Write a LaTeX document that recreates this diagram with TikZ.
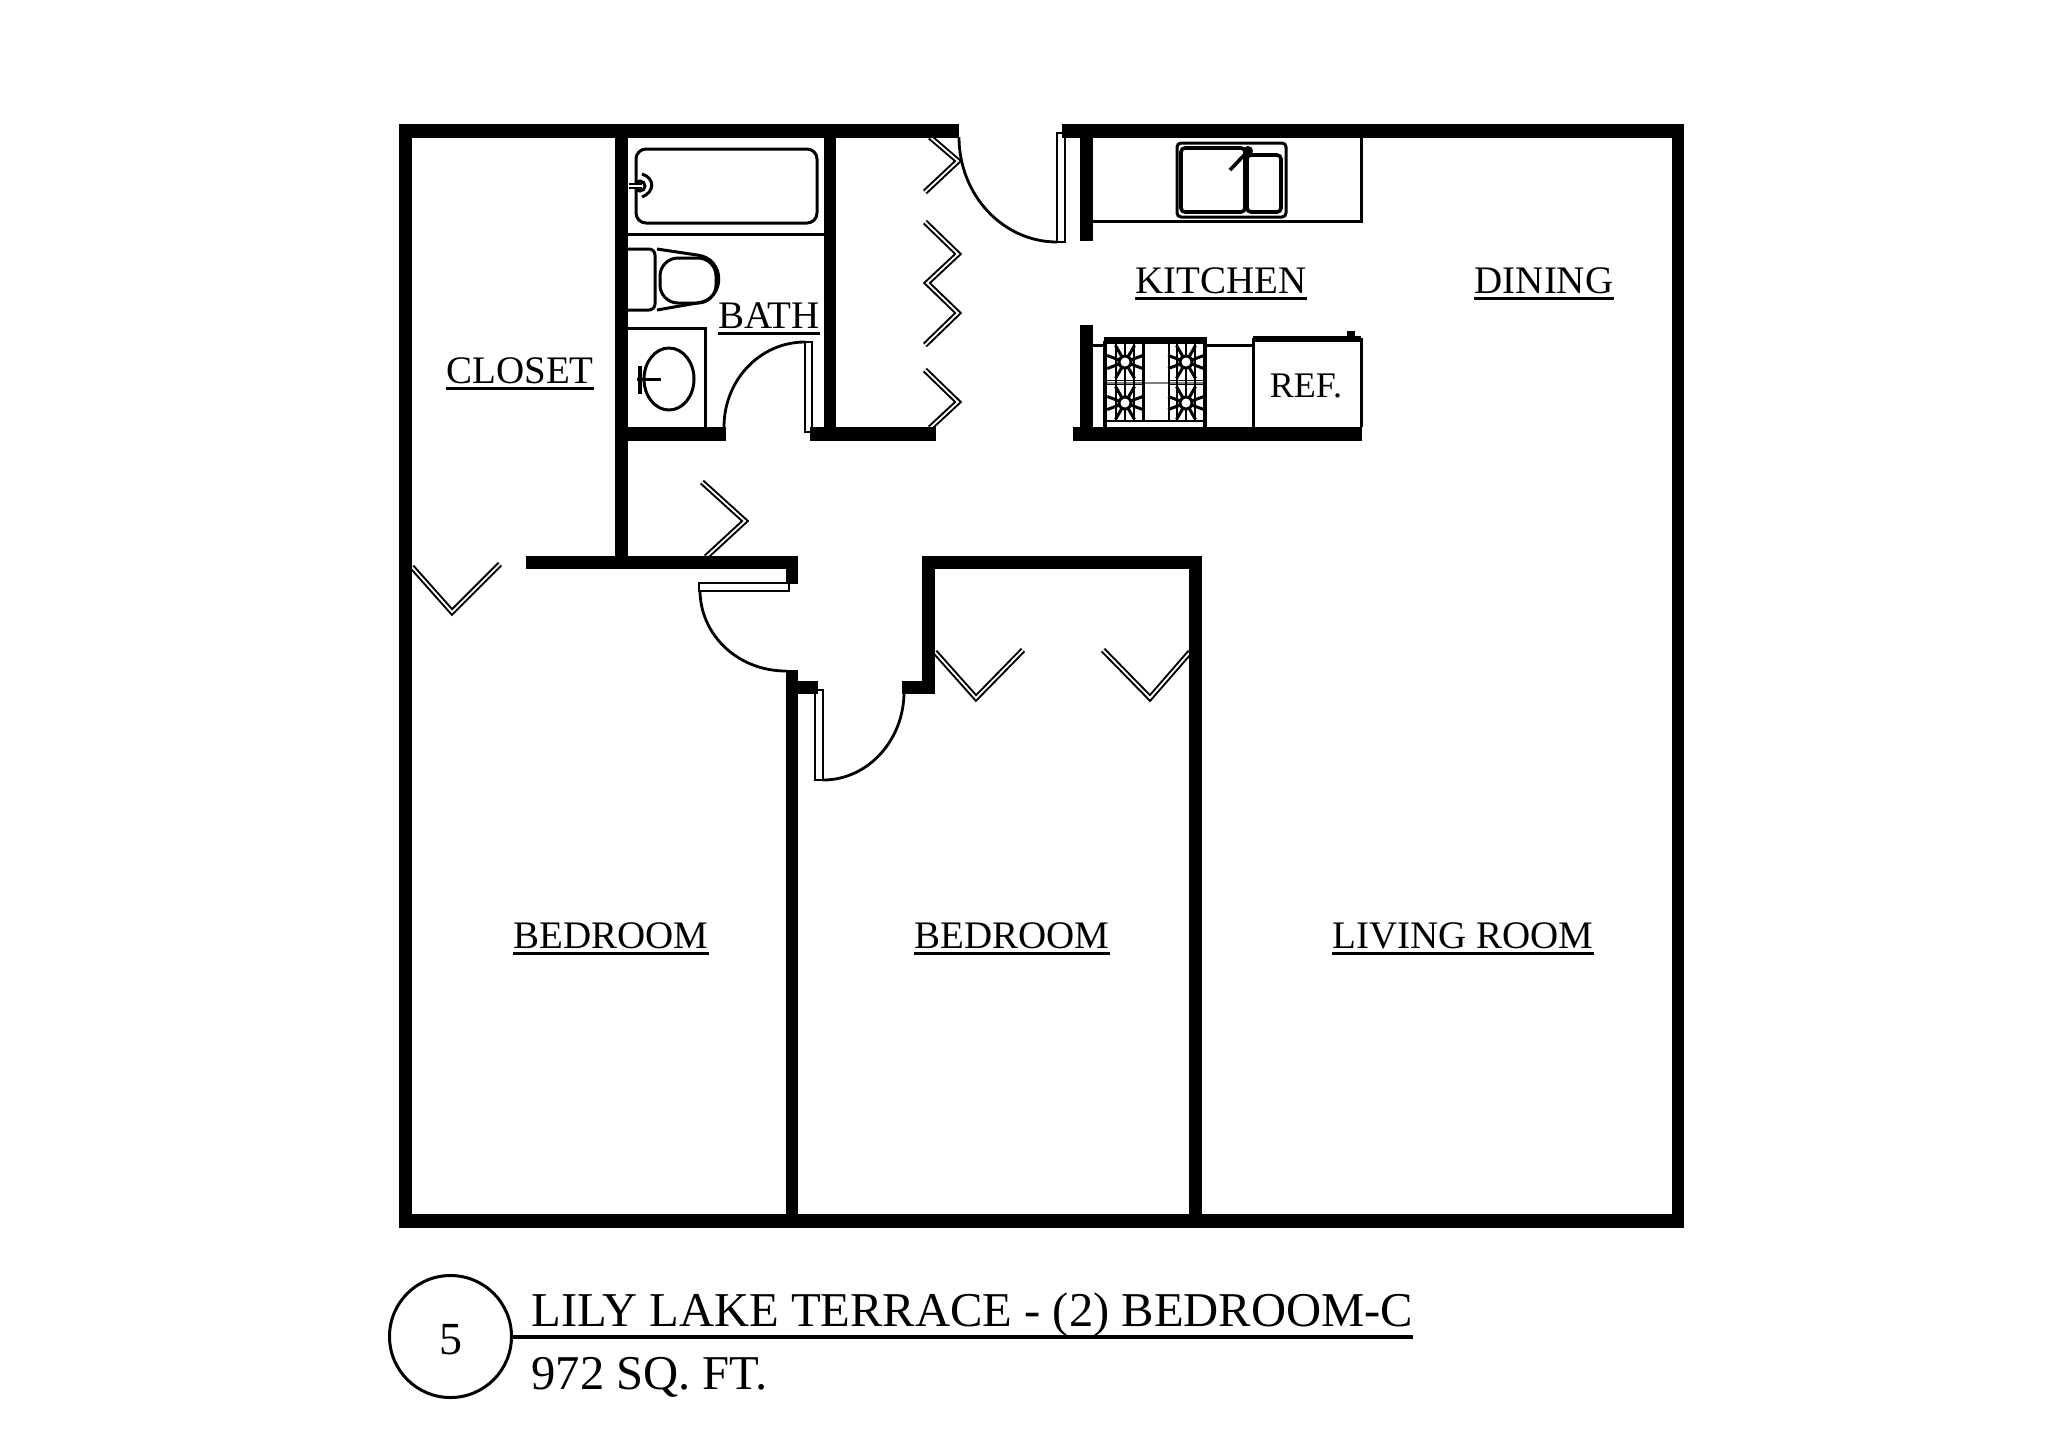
\documentclass[tikz,border=0pt]{standalone}
\usepackage{fontspec}
\setmainfont{Liberation Serif}
\usepackage{tikz}
\usetikzlibrary{positioning}

\tikzset{
    thinline/.style={line width=1.5pt},
    hairline/.style={line width=0.7pt},
    foldline/.style={double, line width=1pt, double distance=0.9pt, miter limit=10},
    leafline/.style={line width=1pt, fill=white},
    swingline/.style={line width=1.4pt},
    roomtext/.style={inner sep=0pt, anchor=base, font=\fontsize{19.5}{20}\selectfont},
    titletext/.style={inner sep=0pt, anchor=base west, font=\fontsize{24.3}{26}\selectfont},
}

\begin{document}
\begin{tikzpicture}[x=0.5pt,y=-0.5pt]
    \useasboundingbox (0,0) rectangle (2048,1448);

    % 折叠门
    \foreach \pts in {
        {(930,137) -- (958,161) -- (925,192)},
        {(925,222) -- (958,254) -- (927,283) -- (958,313) -- (925,345)},
        {(925,370) -- (958,402) -- (930,428)},
        {(702,482) -- (745,521) -- (706,557)},
        {(412,567) -- (452,612) -- (500,564)},
        {(935,652) -- (976,698) -- (1023,650)},
        {(1103,650) -- (1150,698) -- (1190,652)}
    } {
        \draw[foldline] \pts;
    }

    % 门扇
    \draw[leafline] (1057,133) rectangle (1065,242);
    \draw[leafline] (805,342) rectangle (812,432);
    \draw[leafline] (699,583) rectangle (789,591);
    \draw[leafline] (815,690) rectangle (823,780);
    \draw[swingline] (959,137) .. controls (959,195) and (1003,242) .. (1057,242);
    \draw[swingline] (724,427) .. controls (724,380) and (760,342) .. (805,342);
    \draw[swingline] (700,590) .. controls (700,635) and (738,671) .. (786,671);
    \draw[swingline] (823,780) .. controls (868,780) and (904,740) .. (904,692);

    % 墙
    \foreach \xa/\ya/\xb/\yb in {
        399/124/959/138, 1062/124/1684/138, 399/1214/1684/1228,
        399/124/412/1228, 1672/124/1684/1228,
        615/124/628/556, 824/124/836/441,
        615/427/726/441, 810/427/936/441, 1073/427/1362/441,
        1080/137/1093/241, 1080/325/1093/427,
        526/556/798/569, 786/556/798/584,
        786/670/798/1228, 786/681/818/694,
        922/556/1202/569, 922/556/935/694, 902/681/935/694,
        1189/556/1202/1228
    } {
        \fill (\xa,\ya) rectangle (\xb,\yb);
    }

    % 浴缸
    \draw[thinline, rounded corners=5pt] (636,149) rectangle (817,223);
    \draw[thinline] (642,174) .. controls (655,178) and (655,192) .. (642,197);
    \draw[thinline, fill=white] (640,186) circle (5);
    \draw[foldline] (629,186) -- (642,186);
    \draw[thinline] (628,234) -- (824,234);

    % 马桶
    \draw[thinline, rounded corners=3pt] (628,249) -- (655,249) -- (655,310) -- (628,310);
    \draw[thinline] (657,249) -- (697,255) .. controls (726,258) and (726,300) .. (697,303) -- (657,310);
    \draw[thinline, rounded corners=9pt] (660,258) rectangle (716,303);

    % 洗手盆
    \draw[thinline] (628,328) -- (705,328) -- (705,427);
    \draw[thinline] (669,379) ellipse (25 and 31);
    \draw[line width=1.8pt] (640,366) -- (640,394);
    \draw[thinline] (637,379) -- (661,379);

    % 水槽
    \draw[thinline] (1093,221) -- (1361,221) -- (1361,138);
    \draw[thinline, rounded corners=2pt] (1177,143) rectangle (1286,217);
    \draw[line width=1.8pt, rounded corners=2pt] (1181,148) rectangle (1245,212);
    \draw[line width=1.8pt, rounded corners=2pt] (1247,155) rectangle (1281,212);
    \draw[line width=1.8pt] (1230,170) -- (1248,151);
    \fill (1248,151) circle (5);

    % 炉灶
    \draw[thinline] (1093,345) -- (1103,345);
    \draw[thinline] (1207,345) -- (1253,345);
    \draw[line width=2pt] (1105,341) -- (1105,427);
    \draw[line width=2pt] (1205,341) -- (1205,427);
    \fill (1104,337) rectangle (1207,344);
    \draw[hairline, gray] (1107,383) -- (1203,383);
    \draw[hairline] (1107,421) -- (1203,421);
    \draw[thinline] (1143,344) -- (1143,421);
    \draw[hairline] (1169,344) -- (1169,421);
    \foreach \cx in {1125,1186} {
        \draw[hairline] (\cx-18,380.5) -- (\cx+18,380.5);
        \draw[hairline] (\cx-18,384.5) -- (\cx+18,384.5);
        \foreach \dx in {-9,0,9} {
            \draw[hairline] (\cx+\dx,344) -- (\cx+\dx,421);
        }
        \foreach \cy in {362,403} {
            \foreach \a in {20,60,120,160,200,240,300,340} {
                \draw[thinline] (\cx,\cy) -- ++(\a:19);
            }
            \draw[thinline, fill=white] (\cx,\cy) circle (6);
        }
    }

    % 冰箱
    \draw[thinline] (1253,427) -- (1253,339) -- (1361,339) -- (1361,427);
    \fill (1253,336) rectangle (1361,342);
    \fill (1347,331) rectangle (1355,337);

    % 房间名称
    \foreach \nm/\px/\py/\txt in {
        closet/520/383/CLOSET, bath/769/328/BATH,
        kitchen/1221/293/KITCHEN, dining/1544/293/DINING,
        bedrooma/611/948/BEDROOM, bedroomb/1012/948/BEDROOM,
        living/1463/948/LIVING ROOM
    } {
        \node[roomtext] (\nm) at (\px,\py) {\txt};
        \draw[line width=1.3pt] ([yshift=-2.8pt]\nm.base west) -- ([yshift=-2.8pt]\nm.base east);
    }
    \node[roomtext, font=\fontsize{18}{20}\selectfont] (ref) at (1306,397) {REF.};

    % 图名
    \node[circle, draw, thinline, inner sep=0pt, minimum size=61pt, text height=17.5pt, text depth=0pt, font=\fontsize{23}{24}\selectfont] (badge) at (450.5,1336.5) {5};
    \coordinate (ruleend) at (1413,1336.5);
    \draw[line width=2pt] (badge.east) -- (ruleend);
    \node[titletext] (title) at (531,1326) {LILY LAKE TERRACE - (2) BEDROOM-C};
    \node[titletext] (area) at (531,1389) {972 SQ. FT.};
\end{tikzpicture}
\end{document}
